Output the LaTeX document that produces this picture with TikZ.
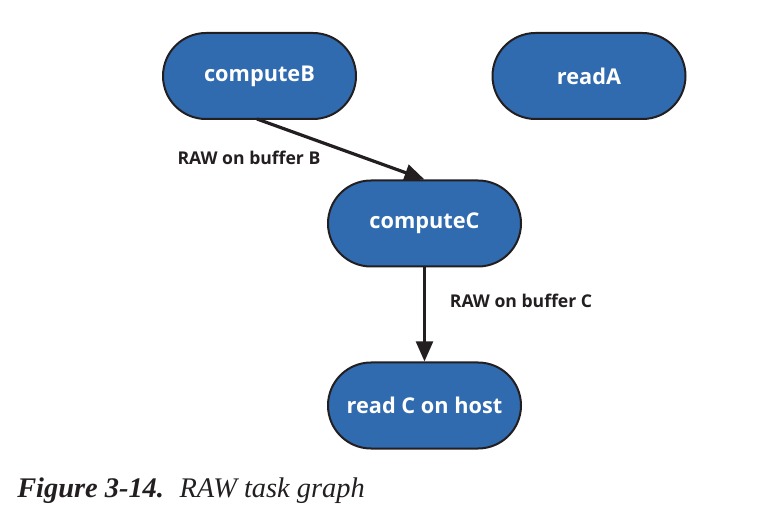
\documentclass[tikz,border=0pt]{standalone}
\usepackage{fontspec}
\setmainfont{Liberation Serif}
\newfontfamily\nodefont{Open Sans}
\usetikzlibrary{arrows.meta,shapes.misc}
\definecolor{taskblue}{RGB}{48,106,175}
\definecolor{edgeblk}{RGB}{35,31,32}
\tikzset{
  task/.style={rounded rectangle, draw=edgeblk, line width=1.5pt, fill=taskblue,
    minimum width=193*0.75pt, minimum height=86*0.75pt, inner sep=0pt,
    text=white, font=\nodefont\bfseries\fontsize{16.3}{19}\selectfont},
  dep/.style={draw=edgeblk, line width=2.4pt, -{Triangle[length=15pt,width=12.5pt]}},
  deplabel/.style={text=edgeblk, font=\nodefont\bfseries\fontsize{13.2}{16}\selectfont, inner sep=0pt}
}
\begin{document}
\begin{tikzpicture}[x=0.75pt,y=-0.75pt]
\useasboundingbox (0,0) rectangle (775,520);
\node[task] (cb) at (259.5,76) {computeB};
\node[task] (ra) at (589,76) {readA};
\node[task] (cc) at (424.5,223.5) {computeC};
\node[task] (rh) at (424.5,405.5) {read C on host};
\coordinate (cbs) at (257,119);
\draw[dep] (cbs) -- (cc.north);
\draw[dep] (cc.south) -- (rh.north);
\node[deplabel] (lb) at (249,158) {RAW on buffer B};
\node[deplabel] (lc) at (521,301) {RAW on buffer C};
\node[anchor=base west, inner sep=0pt, text=edgeblk, font=\fontsize{21.3}{25}\selectfont] (cap) at (17,497) {\textbf{\textit{Figure 3-14.}}\hspace{0.55em}\textit{RAW task graph}};
\end{tikzpicture}
\end{document}
